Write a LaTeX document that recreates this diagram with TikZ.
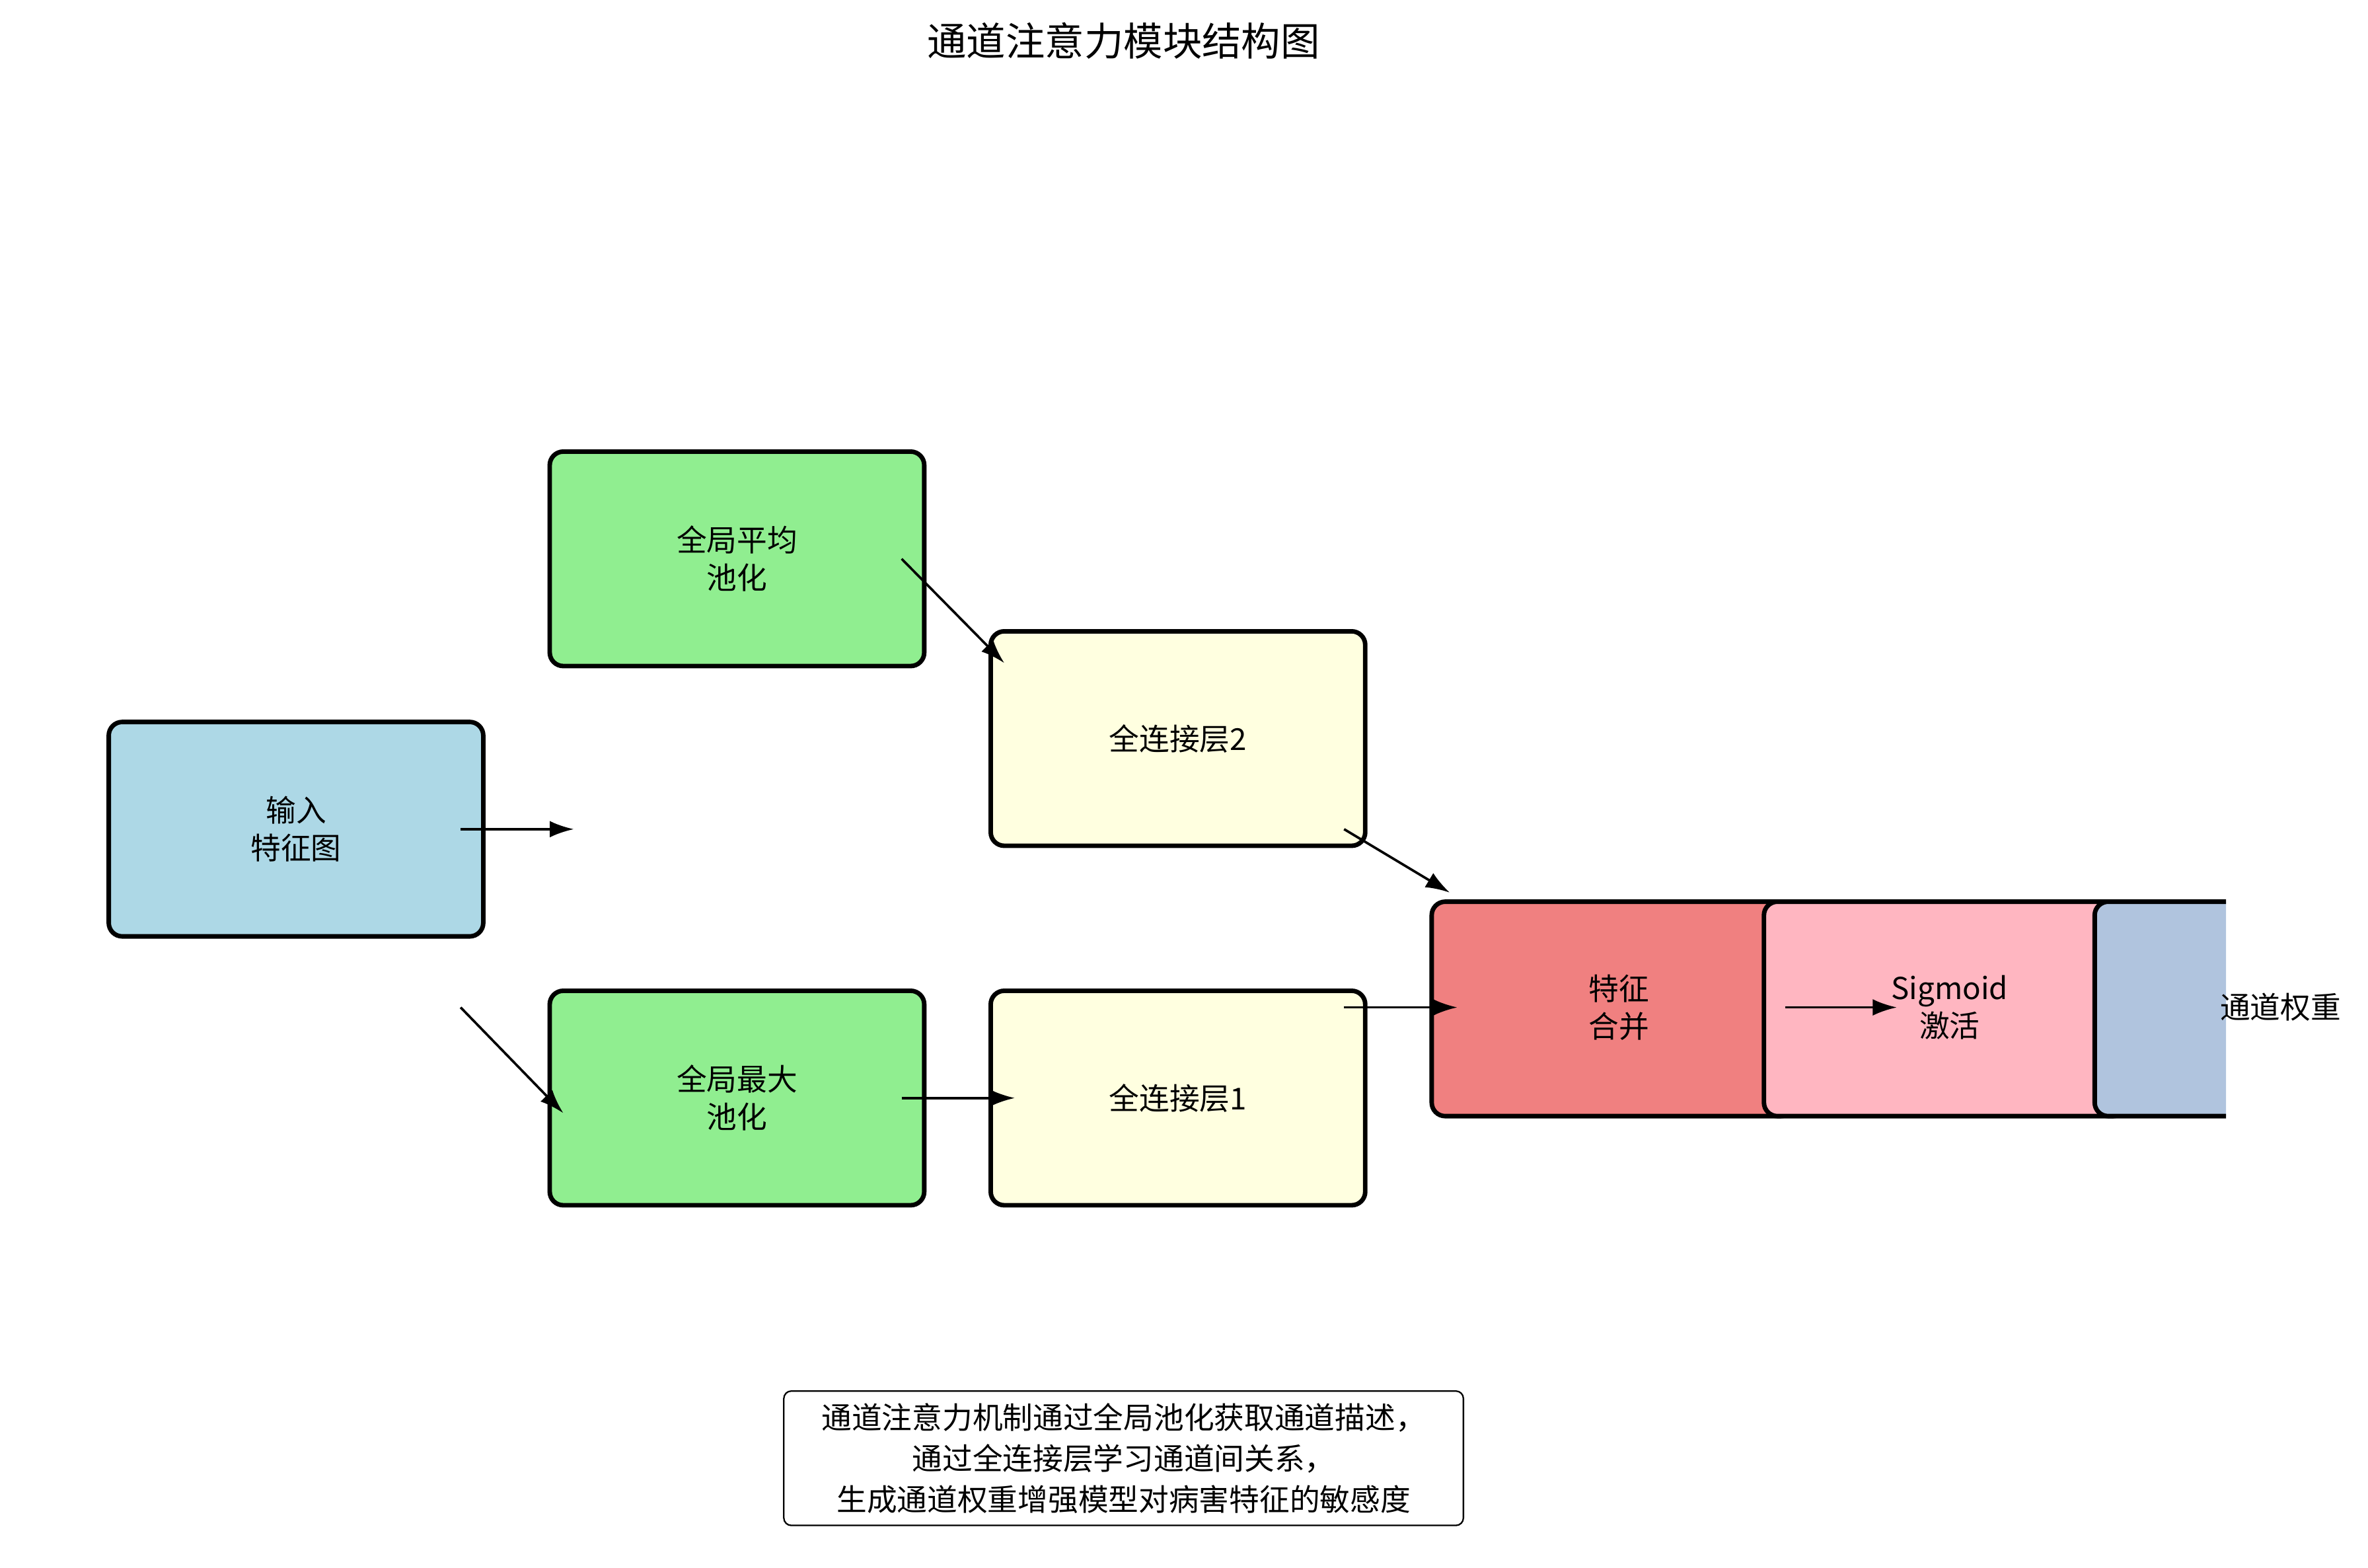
\documentclass[tikz,border=0pt]{standalone}
\usepackage{fontspec}
\setmainfont{Noto Sans CJK SC}
\usetikzlibrary{arrows.meta}
\definecolor{cblue}{HTML}{ADD8E6}
\definecolor{cgreen}{HTML}{90EE90}
\definecolor{cyellow}{HTML}{FFFFE0}
\definecolor{ccoral}{HTML}{F08080}
\definecolor{cpink}{HTML}{FFB6C1}
\definecolor{csteel}{HTML}{B0C4DE}
\begin{document}
\begin{tikzpicture}[x=1pt,y=-1pt,
  blk/.style={draw=black,line width=3pt,rounded corners=9pt},
  lbl/.style={font=\fontsize{20}{25}\selectfont,align=center},
  arr/.style={-{Latex[length=16pt,width=11pt]},line width=1.6pt}]
\useasboundingbox (0,0) rectangle (1568,1038);
\node[font=\fontsize{26}{30}\selectfont] (title) at (744,27) {通道注意力模块结构图};
\draw[blk,fill=cblue] (72,478) rectangle (320,620);
\node[lbl] (inp) at (196,549) {输入\\特征图};
\draw[blk,fill=cgreen] (364,299) rectangle (612,441);
\node[lbl] (gap) at (488,370) {全局平均\\池化};
\draw[blk,fill=cgreen] (364,656) rectangle (612,798);
\node[lbl] (gmp) at (488,727) {全局最大\\池化};
\draw[blk,fill=cyellow] (656,418) rectangle (904,560);
\node[lbl] (fc2) at (780,489) {全连接层2};
\draw[blk,fill=cyellow] (656,656) rectangle (904,798);
\node[lbl] (fc1) at (780,727) {全连接层1};
\draw[blk,fill=ccoral] (948,597) rectangle (1188,739);
\node[lbl] (mrg) at (1072,667) {特征\\合并};
\draw[blk,fill=cpink] (1168,597) rectangle (1408,739);
\node[lbl] (sig) at (1291,667) {Sigmoid\\激活};
\begin{scope}
\clip (1370,580) rectangle (1474,760);
\draw[blk,fill=csteel] (1387,597) rectangle (1640,739);
\end{scope}
\node[lbl] (wt) at (1510,667) {通道权重};
\coordinate (a1) at (305,549); \coordinate (b1) at (380,549);
\coordinate (a2) at (305,667); \coordinate (b2) at (373,737);
\coordinate (a3) at (597,370); \coordinate (b3) at (665,439);
\coordinate (a4) at (597,727); \coordinate (b4) at (672,727);
\coordinate (a5) at (890,549); \coordinate (b5) at (960,591);
\coordinate (a6) at (890,667); \coordinate (b6) at (965,667);
\coordinate (a7) at (1182,667); \coordinate (b7) at (1256,667);
\foreach \i in {1,...,7} \draw[arr] (a\i) -- (b\i);
\node[draw,rounded corners=5pt,line width=1pt,fill=white,minimum width=450pt,minimum height=89pt,align=center,font=\fontsize{20}{27}\selectfont] (note) at (744,965.5) {通道注意力机制通过全局池化获取通道描述，\\通过全连接层学习通道间关系，\\生成通道权重增强模型对病害特征的敏感度};
\end{tikzpicture}
\end{document}
